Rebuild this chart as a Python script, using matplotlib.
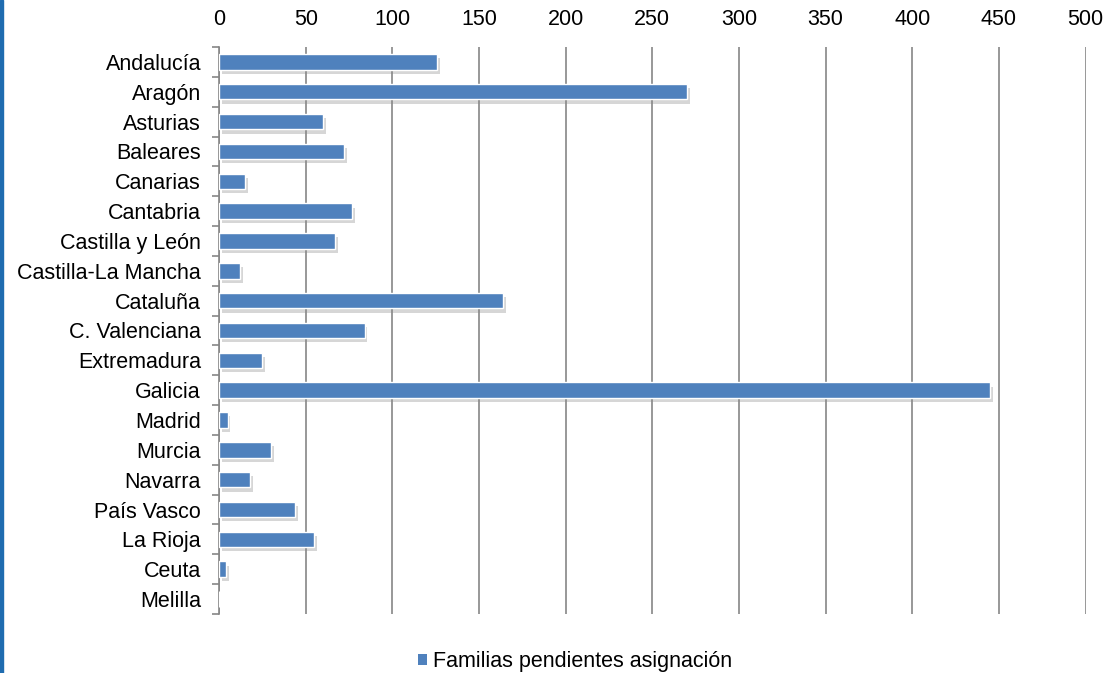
#!/usr/bin/env python3

import numpy as np
import matplotlib
matplotlib.use("Agg")
import matplotlib.pyplot as plt
import matplotlib.patheffects as pe
from matplotlib.patches import Rectangle, Patch

# data
regiones = [
    "Andalucía", "Aragón", "Asturias", "Baleares", "Canarias", "Cantabria",
    "Castilla y León", "Castilla-La Mancha", "Cataluña", "C. Valenciana",
    "Extremadura", "Galicia", "Madrid", "Murcia", "Navarra", "País Vasco",
    "La Rioja", "Ceuta", "Melilla",
]
familias = [126, 270, 60, 72, 15, 77, 67, 12, 164, 84,
            25, 445, 5, 30, 18, 44, 55, 4, 0]
x_ticks = [0, 50, 100, 150, 200, 250, 300, 350, 400, 450, 500]
serie = "Familias pendientes asignación"

BAR = "#4F81BD"
GRID = "#868686"


def main():
    plt.rcParams["font.family"] = ["Liberation Sans", "DejaVu Sans"]

    fig = plt.figure(figsize=(11.13, 6.73), dpi=100)
    ax = fig.add_axes([0.1968, 0.0877, 0.7786, 0.8425])

    y = np.arange(len(regiones))
    bars = ax.barh(y, familias, height=0.52, color=BAR, edgecolor="white",
                   linewidth=1.0, zorder=3)
    for b in bars:
        b.set_path_effects([
            pe.SimplePatchShadow(offset=(2, -3), shadow_rgbFace="#8a8a8a", alpha=0.35),
            pe.Normal(),
        ])

    ax.set_ylim(len(regiones) - 0.5, -0.5)
    ax.set_xlim(0, 500)

    ax.set_yticks(y)
    ax.set_yticklabels(regiones, fontsize=15.5)
    ax.set_yticks(np.arange(len(regiones) + 1) - 0.5, minor=True)
    ax.tick_params(axis="y", which="major", length=0, pad=13)
    ax.tick_params(axis="y", which="minor", length=5, width=1.2, color=GRID)

    ax.set_xticks(x_ticks)
    ax.set_xticklabels([str(t) for t in x_ticks], fontsize=15.5)
    ax.xaxis.tick_top()
    ax.tick_params(axis="x", length=0, pad=12)

    ax.grid(axis="x", color=GRID, linewidth=1.2, zorder=0)
    ax.set_axisbelow(True)
    for s in ["top", "right", "bottom"]:
        ax.spines[s].set_visible(False)
    ax.spines["left"].set_color(GRID)
    ax.spines["left"].set_linewidth(1.2)

    handle = Patch(facecolor=BAR, edgecolor="none")
    fig.legend([handle], [serie], loc="center",
               bbox_to_anchor=(575 / 1113, 1 - 662 / 673),
               frameon=False, fontsize=15.5, handlelength=0.4, handleheight=0.4,
               handletextpad=0.3)

    # blue border on the left edge
    fig.patches.append(Rectangle((0, 0), 3 / 1113, 1, transform=fig.transFigure,
                                 color="#1F6CB0", zorder=10))

    fig.savefig("out.png", dpi=100)


if __name__ == "__main__":
    main()
